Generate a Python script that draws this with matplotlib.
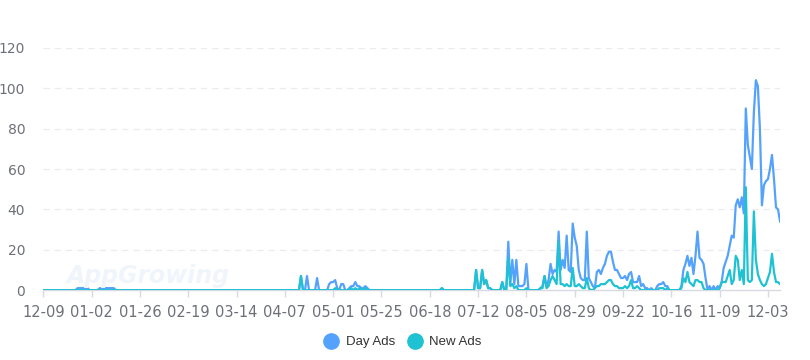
import numpy as np
import pandas as pd
import matplotlib
matplotlib.use("Agg")
from matplotlib import pyplot as plt
from matplotlib.lines import Line2D

# daily counts from 2023-12-09 to 2024-12-09, one row per 24-day label interval
day_ads = [
    0, 0, 0, 0, 0, 0, 0, 0, 0, 0, 0, 0, 0, 0, 0, 0, 0, 1, 1, 1, 1, 1, 1, 0,
    0, 0, 0, 0, 1, 1, 1, 1, 1, 1, 1, 1, 0, 0, 0, 0, 0, 0, 0, 0, 0, 0, 0, 0,
    0, 0, 0, 0, 0, 0, 0, 0, 0, 0, 0, 0, 0, 0, 0, 0, 0, 0, 0, 0, 0, 0, 0, 0,
    0, 0, 0, 0, 0, 0, 0, 0, 0, 0, 0, 0, 0, 0, 0, 0, 0, 0, 0, 0, 0, 0, 0, 0,
    0, 0, 0, 0, 0, 0, 0, 0, 0, 0, 0, 0, 0, 0, 0, 0, 0, 0, 0, 0, 0, 0, 0, 0,
    0, 0, 0, 0, 0, 0, 0, 0, 7, 0, 0, 7, 0, 0, 0, 0, 6, 0, 0, 0, 0, 0, 3, 4,
    4, 5, 1, 0, 3, 3, 0, 0, 1, 2, 2, 4, 2, 2, 1, 1, 2, 1, 0, 0, 0, 0, 0, 0,
    0, 0, 0, 0, 0, 0, 0, 0, 0, 0, 0, 0, 0, 0, 0, 0, 0, 0, 0, 0, 0, 0, 0, 0,
    0, 0, 0, 0, 0, 0, 1, 0, 0, 0, 0, 0, 0, 0, 0, 0, 0, 0, 0, 0, 0, 0, 0, 10,
    1, 1, 10, 3, 5, 1, 1, 0, 0, 0, 0, 0, 4, 0, 1, 24, 3, 15, 3, 15, 2, 2, 2, 3,
    13, 0, 0, 0, 0, 0, 0, 1, 2, 7, 2, 5, 13, 8, 10, 9, 29, 10, 15, 11, 27, 10, 9, 33,
    26, 22, 10, 6, 5, 5, 29, 6, 4, 2, 1, 9, 10, 8, 11, 13, 17, 19, 19, 14, 10, 10, 8, 6,
    6, 7, 5, 8, 9, 4, 4, 4, 7, 2, 3, 1, 1, 0, 1, 0, 0, 2, 3, 3, 4, 2, 2, 0,
    0, 0, 0, 0, 0, 2, 10, 13, 17, 12, 16, 8, 17, 29, 16, 15, 13, 6, 0, 2, 0, 2, 0, 2,
    1, 4, 11, 14, 17, 22, 27, 26, 42, 45, 41, 46, 38, 90, 72, 66, 60, 88, 104, 101, 80, 42, 52, 54,
    55, 60, 67, 55, 41, 40, 34,
]
new_ads = [
    0, 0, 0, 0, 0, 0, 0, 0, 0, 0, 0, 0, 0, 0, 0, 0, 0, 0, 0, 0, 0, 0, 0, 0,
    0, 0, 0, 0, 0, 0, 0, 0, 0, 0, 0, 0, 0, 0, 0, 0, 0, 0, 0, 0, 0, 0, 0, 0,
    0, 0, 0, 0, 0, 0, 0, 0, 0, 0, 0, 0, 0, 0, 0, 0, 0, 0, 0, 0, 0, 0, 0, 0,
    0, 0, 0, 0, 0, 0, 0, 0, 0, 0, 0, 0, 0, 0, 0, 0, 0, 0, 0, 0, 0, 0, 0, 0,
    0, 0, 0, 0, 0, 0, 0, 0, 0, 0, 0, 0, 0, 0, 0, 0, 0, 0, 0, 0, 0, 0, 0, 0,
    0, 0, 0, 0, 0, 0, 0, 0, 7, 0, 0, 0, 0, 0, 0, 0, 0, 0, 0, 0, 0, 0, 0, 0,
    0, 1, 0, 0, 0, 0, 0, 0, 0, 1, 0, 1, 0, 1, 0, 0, 1, 0, 0, 0, 0, 0, 0, 0,
    0, 0, 0, 0, 0, 0, 0, 0, 0, 0, 0, 0, 0, 0, 0, 0, 0, 0, 0, 0, 0, 0, 0, 0,
    0, 0, 0, 0, 0, 0, 1, 0, 0, 0, 0, 0, 0, 0, 0, 0, 0, 0, 0, 0, 0, 0, 0, 10,
    1, 1, 10, 3, 5, 1, 1, 0, 0, 0, 0, 0, 4, 0, 0, 16, 2, 3, 1, 2, 0, 0, 0, 0,
    1, 0, 0, 0, 0, 0, 0, 1, 1, 7, 1, 2, 5, 7, 5, 3, 24, 3, 3, 2, 3, 2, 2, 11,
    2, 2, 3, 2, 1, 1, 6, 1, 0, 0, 1, 2, 2, 3, 3, 3, 4, 5, 5, 3, 2, 2, 1, 1,
    1, 2, 1, 2, 5, 1, 1, 2, 1, 0, 0, 0, 0, 0, 0, 0, 0, 0, 1, 1, 1, 0, 1, 0,
    0, 0, 0, 0, 0, 1, 6, 4, 9, 4, 3, 2, 5, 5, 4, 4, 1, 0, 0, 0, 0, 0, 0, 0,
    1, 4, 4, 4, 7, 10, 3, 5, 17, 15, 5, 10, 3, 51, 5, 4, 5, 39, 15, 8, 5, 3, 2, 3,
    6, 9, 18, 9, 4, 4, 3,
]
start_date = "2023-12-09"
y_ticks = [0, 20, 40, 60, 80, 100, 120]
series_names = ["Day Ads", "New Ads"]
series_colors = ["#55a2fd", "#1fc2d3"]

dates = pd.date_range(start_date, periods=len(day_ads), freq="D")
label_color = "#6e7079"

fig = plt.figure(figsize=(8.1, 3.6), dpi=100)
ax = fig.add_axes([0.0535, 0.194, 0.9095, 0.673])

ax.plot(dates, day_ads, color=series_colors[0], lw=1.6, solid_joinstyle="round", zorder=3)
ax.plot(dates, new_ads, color=series_colors[1], lw=1.6, solid_joinstyle="round", zorder=4)

ax.set_xlim(dates[0], dates[-1])
ax.set_ylim(0, 120)
ax.set_yticks(y_ticks)
for y in y_ticks[1:]:
    ax.axhline(y, color="#ebebef", lw=0.9, ls=(0, (5, 4)), zorder=1)

ticks = dates[::24]
ax.set_xticks(ticks)
ax.set_xticklabels([d.strftime("%m-%d") for d in ticks])

for side in ["top", "right", "left"]:
    ax.spines[side].set_visible(False)
ax.spines["bottom"].set_color("#d7dae3")
ax.spines["bottom"].set_linewidth(1.0)
ax.tick_params(axis="x", colors="#d7dae3", length=5, width=1, labelcolor=label_color,
               labelsize=10.5, pad=6)
ax.tick_params(axis="y", length=0, labelcolor=label_color, labelsize=10, pad=13)

# faint watermark
fig.text(0.082, 0.215, "AppGrowing", fontsize=17, fontstyle="italic", fontweight="bold",
         color="#f0f4fb", zorder=0)

handles = [Line2D([], [], ls="none", marker="o", markersize=11, color=c) for c in series_colors]
fig.legend(handles, series_names, loc="center", bbox_to_anchor=(0.497, 0.05), ncol=2,
           frameon=False, prop={"family": "Liberation Sans", "size": 9.5},
           labelcolor="#333333", handletextpad=0.5, columnspacing=0.9, handlelength=1.2)

fig.savefig("out.png", dpi=100, facecolor="white")
